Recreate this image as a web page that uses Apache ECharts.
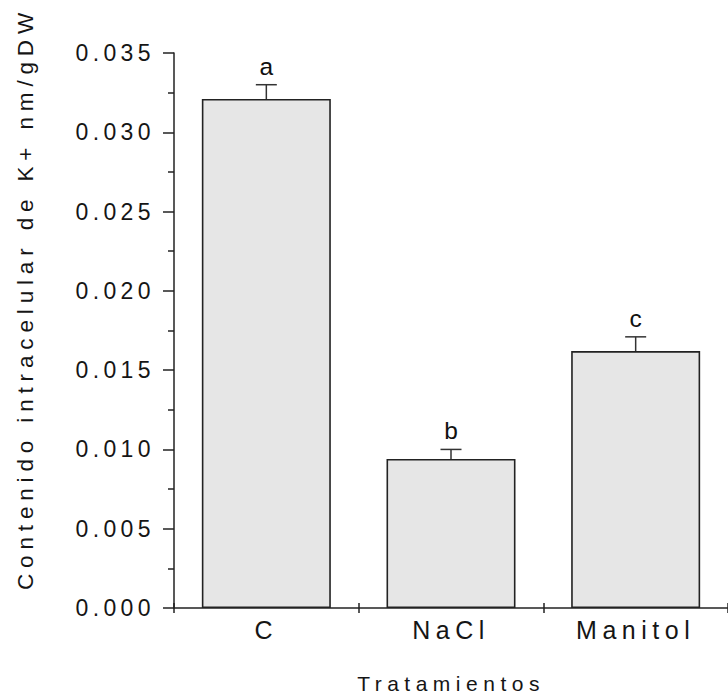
<!DOCTYPE html>
<html><head><meta charset="utf-8">
<script src="https://cdn.jsdelivr.net/npm/echarts@6/dist/echarts.min.js"></script>
<style>
html,body{margin:0;padding:0;background:#fff;}
#chart{width:728px;height:699px;}
#chart text{letter-spacing:5px;}
#chart text[style*="23px"]{letter-spacing:4.4px;}
#chart text[style*="25px"]{letter-spacing:5.5px;}
#chart text[style*="22.5px"]{letter-spacing:5.85px;}
#chart text[style*="21px"]{letter-spacing:5.5px;}
#chart text[style*="24.5px"]{letter-spacing:0px;}
</style></head><body><div id="chart"></div>
<script>
// ---- data ----
const categories = ['C', 'NaCl', 'Manitol'];
const values = [0.0321, 0.0094, 0.0162];
const errors = [0.0009, 0.0006, 0.0009];
const letters = ['a', 'b', 'c'];
const yMin = 0, yMax = 0.035, yStep = 0.005;
const yTitle = 'Contenido intracelular de K+ nm/gDW';
const xTitle = 'Tratamientos';

const FONT = '"Liberation Sans", Arial, sans-serif';
const INK = '#151515';
const chart = echarts.init(document.getElementById('chart'), null, {renderer: 'svg'});

const option = {
  backgroundColor: '#fff',
  animation: false,
  grid: {left: 174, top: 53, width: 559, height: 558.5, containLabel: false},
  xAxis: [{
    type: 'category',
    data: categories,
    position: 'bottom',
    boundaryGap: true,
    name: xTitle,
    nameLocation: 'middle',
    nameGap: 65,
    nameTextStyle: {fontFamily: FONT, fontSize: 21, color: INK},
    axisLine: {show: true, lineStyle: {color: '#222', width: 1.5}},
    axisTick: {show: true, alignWithLabel: false, length: 5, lineStyle: {color: '#222', width: 1.5}},
    axisLabel: {fontFamily: FONT, fontSize: 25, color: INK, margin: 9},
    splitLine: {show: false}
  }, {
    type: 'category',
    data: categories,
    position: 'bottom',
    boundaryGap: true,
    axisLine: {show: false},
    axisTick: {show: true, inside: true, alignWithLabel: false, length: 5, lineStyle: {color: '#222', width: 1.5}},
    axisLabel: {show: false},
    splitLine: {show: false}
  }],
  yAxis: {
    type: 'value',
    min: yMin, max: yMax, interval: yStep,
    name: yTitle,
    nameLocation: 'middle',
    nameGap: 137,
    nameTextStyle: {fontFamily: FONT, fontSize: 22.5, color: INK, padding: [0, 0, 0, 64]},
    axisLine: {show: true, lineStyle: {color: '#222', width: 1.5}},
    axisTick: {show: true, length: 11, lineStyle: {color: '#222', width: 1.5}},
    minorTick: {show: true, splitNumber: 2, length: 6, lineStyle: {color: '#222', width: 1.5}},
    axisLabel: {fontFamily: FONT, fontSize: 23, color: INK, margin: 19,
      formatter: v => v.toFixed(3)},
    splitLine: {show: false}
  },
  series: [{
    type: 'bar',
    data: values,
    barWidth: 129,
    itemStyle: {color: '#e6e6e6', borderColor: '#222', borderWidth: 1.6},
    z: 2
  }, {
    type: 'custom',
    data: values.map((v, i) => [i, v, errors[i]]),
    z: 5,
    renderItem: function (params, api) {
      const i = api.value(0), v = api.value(1), e = api.value(2);
      const base = api.coord([i, v]);
      const top = api.coord([i, v + e]);
      const cw = 10.5;
      const ls = {stroke: '#333', lineWidth: 1.5};
      return {
        type: 'group',
        children: [
          {type: 'line', shape: {x1: base[0], y1: base[1], x2: top[0], y2: top[1]}, style: ls},
          {type: 'line', shape: {x1: top[0] - cw, y1: top[1], x2: top[0] + cw, y2: top[1]}, style: ls},
          {type: 'text', style: {text: letters[params.dataIndex], x: top[0], y: top[1] - 6,
            align: 'center', verticalAlign: 'bottom',
            fontSize: 24.5, fontFamily: FONT, fill: '#111'}}
        ]
      };
    }
  }]
};
chart.setOption(option);
</script></body></html>
